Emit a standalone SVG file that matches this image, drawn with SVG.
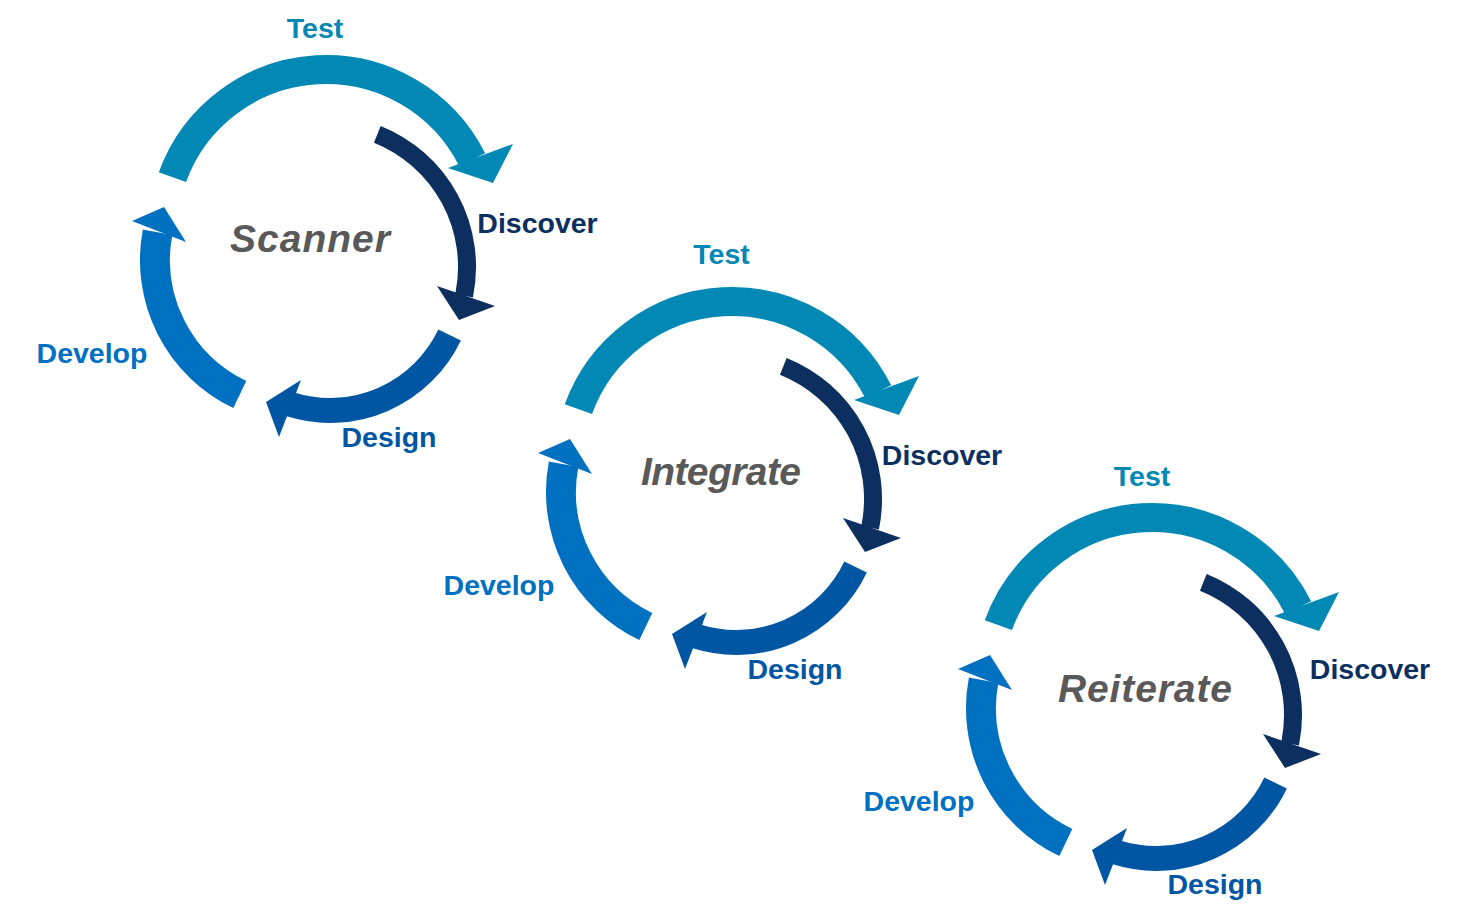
<svg xmlns="http://www.w3.org/2000/svg" xmlns:xlink="http://www.w3.org/1999/xlink" width="1458" height="920" viewBox="0 0 1458 920">
  <style>
    .arc { fill: none; stroke-linecap: butt; }
    .test { stroke: #0288B5; }
    .disc { stroke: #0C2F5F; }
    .desg { stroke: #0056A3; }
    .devl { stroke: #0070C0; }
    .h-test { fill: #0288B5; }
    .h-disc { fill: #0C2F5F; }
    .h-desg { fill: #0056A3; }
    .h-devl { fill: #0070C0; }
    .lbl { font-family: "Liberation Sans", Arial, sans-serif; font-weight: bold; font-size: 28.5px; text-anchor: middle; }
    .ctr { font-family: "Liberation Sans", Arial, sans-serif; font-weight: bold; font-style: italic; font-size: 39px; text-anchor: middle; fill: #595959; }
  </style>
  <defs>
    <g id="cycle">
      <path class="arc test" stroke-width="29" d="M172.4,177.1 A163.5,163.5 0 0 1 472.2,159.8"/>
      <polygon class="h-test" points="448,168 513,144 493,183"/>
      <path class="arc disc" stroke-width="18" d="M377.3,134.3 A143,143 0 0 1 464.1,295.8"/>
      <polygon class="h-disc" points="437,286 495,306 459,320"/>
      <path class="arc desg" stroke-width="25" d="M449.6,335 A132.5,132.5 0 0 1 290.4,404.4"/>
      <polygon class="h-desg" points="301,380 279,437 266,402"/>
      <path class="arc devl" stroke-width="30" d="M239.8,394.5 A149,149 0 0 1 157.6,232.2"/>
      <polygon class="h-devl" points="132,221 186,242 164,207"/>
    </g>
  </defs>
  <rect width="1458" height="920" fill="#ffffff"/>
  <g id="connectors">
    <use xlink:href="#cycle" href="#cycle"/>
    <use xlink:href="#cycle" href="#cycle" transform="translate(406,232)"/>
    <use xlink:href="#cycle" href="#cycle" transform="translate(826,448)"/>
  </g>
  <g id="cycle1-labels">
    <g id="c1-center"><text class="ctr" x="310" y="252" textLength="160">Scanner</text></g>
    <g id="c1-test"><text class="lbl h-test" x="315" y="38">Test</text></g>
    <g id="c1-discover"><text class="lbl h-disc" x="537.5" y="233">Discover</text></g>
    <g id="c1-design"><text class="lbl h-desg" x="389" y="447">Design</text></g>
    <g id="c1-develop"><text class="lbl h-devl" x="92" y="363">Develop</text></g>
  </g>
  <g id="cycle2-labels">
    <g id="c2-center"><text class="ctr" x="721" y="485" textLength="160">Integrate</text></g>
    <g id="c2-test"><text class="lbl h-test" x="721.5" y="263.5">Test</text></g>
    <g id="c2-discover"><text class="lbl h-disc" x="942" y="465">Discover</text></g>
    <g id="c2-design"><text class="lbl h-desg" x="795" y="679">Design</text></g>
    <g id="c2-develop"><text class="lbl h-devl" x="499" y="595">Develop</text></g>
  </g>
  <g id="cycle3-labels">
    <g id="c3-center"><text class="ctr" x="1145" y="701.5" textLength="174">Reiterate</text></g>
    <g id="c3-test"><text class="lbl h-test" x="1142" y="485.5">Test</text></g>
    <g id="c3-discover"><text class="lbl h-disc" x="1370" y="678.5">Discover</text></g>
    <g id="c3-design"><text class="lbl h-desg" x="1215" y="894">Design</text></g>
    <g id="c3-develop"><text class="lbl h-devl" x="919" y="811">Develop</text></g>
  </g>
</svg>
